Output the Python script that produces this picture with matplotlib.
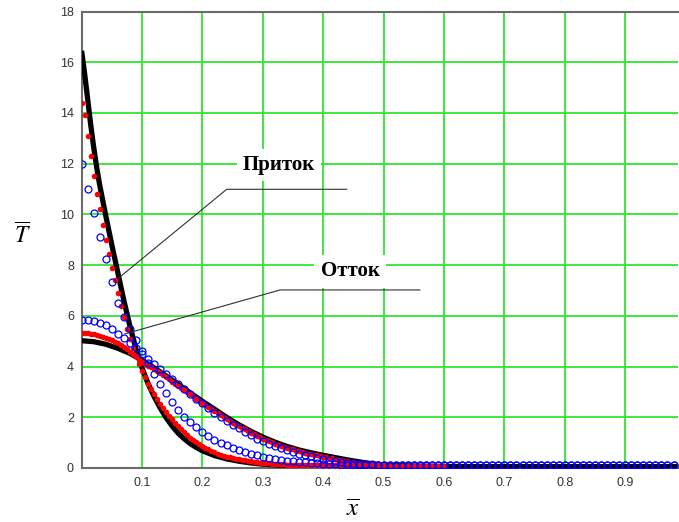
import numpy as np
import matplotlib
matplotlib.use("Agg")
import matplotlib.pyplot as plt

plt.rcParams['mathtext.fontset'] = 'stix'

#%% data

# black lines (solid)
x_black_in = [0.0, 0.005, 0.01, 0.015, 0.02, 0.025, 0.03, 0.035, 0.04, 0.05,
              0.06, 0.07, 0.08, 0.09, 0.10, 0.11, 0.12, 0.13, 0.14, 0.15,
              0.16, 0.17, 0.18, 0.19, 0.20, 0.22, 0.24, 0.26, 0.28, 0.30,
              0.33, 0.36, 0.40, 0.45, 0.50, 0.70, 0.99]
black_inflow = [16.45, 15.55, 14.55, 13.55, 12.65, 11.85, 11.15, 10.55, 9.95, 8.8,
                7.7, 6.6, 5.6, 4.7, 3.95, 3.33, 2.82, 2.37, 1.98, 1.65,
                1.37, 1.15, 0.96, 0.81, 0.68, 0.49, 0.36, 0.27, 0.2, 0.15,
                0.11, 0.08, 0.06, 0.05, 0.05, 0.05, 0.05]

x_black_out = [0.0, 0.02, 0.04, 0.06, 0.08, 0.10, 0.12, 0.14, 0.16, 0.18,
               0.20, 0.22, 0.24, 0.26, 0.28, 0.30, 0.32, 0.34, 0.36, 0.38,
               0.40, 0.42, 0.44, 0.46, 0.48, 0.50, 0.55, 0.60, 0.70, 0.99]
black_outflow = [5.02, 4.98, 4.88, 4.72, 4.52, 4.25, 3.95, 3.63, 3.3, 2.96,
                 2.63, 2.32, 2.0, 1.71, 1.45, 1.22, 1.02, 0.85, 0.71, 0.6,
                 0.5, 0.41, 0.32, 0.24, 0.17, 0.12, 0.08, 0.06, 0.05, 0.05]

# red dots, x = 0 .. 0.6 step 0.005
x_red = np.linspace(0, 0.6, 121)
red_inflow = [14.4, 13.9, 13.1, 12.3, 11.5, 10.8, 10.2, 9.6, 9.0, 8.45,
              7.9, 7.4, 6.9, 6.4, 5.95, 5.5, 5.1, 4.75, 4.4, 4.1,
              3.82, 3.57, 3.33, 3.11, 2.91, 2.72, 2.54, 2.37, 2.21, 2.06,
              1.92, 1.78, 1.65, 1.52, 1.41, 1.3, 1.2, 1.1, 1.01, 0.93,
              0.86, 0.79, 0.73, 0.67, 0.62, 0.57, 0.53, 0.49, 0.45, 0.42,
              0.39, 0.36, 0.34, 0.32, 0.3, 0.28, 0.26, 0.24, 0.22, 0.21,
              0.2, 0.19, 0.18, 0.17, 0.16, 0.15, 0.14, 0.14, 0.13, 0.12,
              0.12, 0.11, 0.11, 0.11, 0.1, 0.1, 0.1, 0.1, 0.1, 0.1,
              0.1, 0.1, 0.1, 0.1, 0.1, 0.1, 0.1, 0.1, 0.1, 0.1,
              0.09, 0.09, 0.09, 0.09, 0.09, 0.09, 0.09, 0.09, 0.09, 0.09,
              0.08, 0.08, 0.08, 0.08, 0.08, 0.08, 0.08, 0.08, 0.08, 0.08,
              0.07, 0.07, 0.07, 0.07, 0.07, 0.07, 0.07, 0.07, 0.07, 0.07,
              0.07]
red_outflow = [5.32, 5.32, 5.31, 5.29, 5.27, 5.24, 5.21, 5.17, 5.13, 5.08,
               5.03, 4.97, 4.91, 4.84, 4.76, 4.68, 4.59, 4.5, 4.4, 4.3,
               4.19, 4.12, 4.04, 3.97, 3.89, 3.81, 3.73, 3.65, 3.57, 3.49,
               3.4, 3.32, 3.24, 3.15, 3.07, 2.98, 2.9, 2.82, 2.73, 2.65,
               2.57, 2.49, 2.41, 2.33, 2.26, 2.17, 2.09, 2.0, 1.92, 1.85,
               1.78, 1.71, 1.64, 1.58, 1.52, 1.45, 1.39, 1.33, 1.27, 1.21,
               1.16, 1.11, 1.06, 1.01, 0.96, 0.92, 0.88, 0.84, 0.8, 0.76,
               0.73, 0.69, 0.66, 0.63, 0.6, 0.57, 0.55, 0.52, 0.5, 0.47,
               0.45, 0.42, 0.4, 0.38, 0.35, 0.33, 0.31, 0.29, 0.27, 0.25,
               0.23, 0.21, 0.2, 0.18, 0.17, 0.15, 0.14, 0.13, 0.12, 0.11,
               0.1, 0.1, 0.09, 0.09, 0.08, 0.08, 0.08, 0.07, 0.07, 0.07,
               0.07, 0.07, 0.06, 0.06, 0.06, 0.06, 0.06, 0.06, 0.06, 0.06,
               0.06]

# blue open circles, x = 0 .. 0.98 step 0.01
x_blue = np.linspace(0, 0.98, 99)
blue_inflow = [12.0, 11.0, 10.05, 9.1, 8.25, 7.35, 6.5, 5.95, 5.5, 5.05,
               4.6, 4.15, 3.7, 3.3, 2.95, 2.62, 2.3, 2.03, 1.8, 1.6,
               1.42, 1.26, 1.12, 1.0, 0.89, 0.79, 0.71, 0.63, 0.56, 0.5,
               0.45, 0.4, 0.36, 0.32, 0.29, 0.26, 0.24, 0.22, 0.2, 0.18,
               0.16, 0.15, 0.14, 0.13, 0.12, 0.11, 0.11, 0.11, 0.1, 0.1,
               0.1, 0.1, 0.1, 0.1, 0.1, 0.1, 0.1, 0.1, 0.1, 0.1,
               0.1, 0.1, 0.1, 0.1, 0.1, 0.1, 0.1, 0.1, 0.1, 0.1,
               0.1, 0.1, 0.1, 0.1, 0.1, 0.1, 0.1, 0.1, 0.1, 0.1,
               0.1, 0.1, 0.1, 0.1, 0.1, 0.1, 0.1, 0.1, 0.1, 0.1,
               0.1, 0.1, 0.1, 0.1, 0.1, 0.1, 0.1, 0.1, 0.1]
blue_outflow = [5.85, 5.84, 5.8, 5.72, 5.62, 5.48, 5.3, 5.12, 4.92, 4.72,
                4.5, 4.3, 4.1, 3.9, 3.7, 3.5, 3.32, 3.12, 2.92, 2.74,
                2.55, 2.37, 2.18, 2.02, 1.86, 1.7, 1.56, 1.42, 1.29, 1.16,
                1.05, 0.95, 0.86, 0.78, 0.7, 0.63, 0.57, 0.51, 0.46, 0.41,
                0.36, 0.32, 0.28, 0.24, 0.21, 0.19, 0.17, 0.15, 0.14, 0.13,
                0.12, 0.12, 0.11, 0.11, 0.11, 0.11, 0.11, 0.11, 0.11, 0.11,
                0.11, 0.11, 0.11, 0.11, 0.11, 0.11, 0.11, 0.11, 0.11, 0.11,
                0.11, 0.11, 0.11, 0.11, 0.11, 0.11, 0.11, 0.11, 0.11, 0.11,
                0.11, 0.11, 0.11, 0.11, 0.11, 0.11, 0.11, 0.11, 0.11, 0.11,
                0.11, 0.11, 0.11, 0.11, 0.11, 0.11, 0.11, 0.11, 0.11]

x_ticks = [0.1, 0.2, 0.3, 0.4, 0.5, 0.6, 0.7, 0.8, 0.9]
x_tick_labels = ['0.1', '0.2', '0.3', '0.4', '0.5', '0.6', '0.7', '0.8', '0.9']
y_ticks = [0, 2, 4, 6, 8, 10, 12, 14, 16, 18]
y_tick_labels = ['0', '2', '4', '6', '8', '10', '12', '14', '16', '18']

label_in = 'Приток'
label_out = 'Отток'

#%% figure

W, H = 679, 522
fig = plt.figure(figsize=(W / 100, H / 100), dpi=100)
# axes box in pixels: x 81.6..678, y 11.5..468
ax = fig.add_axes([81.6 / W, 1 - 468 / H, (678 - 81.6) / W, (468 - 11.5) / H])
ax.set_xlim(0, (678 - 81.6) / 604)
ax.set_ylim(0, 18)

ax.set_axisbelow(True)
ax.grid(True, color='#2ee62e', lw=1.3)

for side in ['left', 'bottom', 'top']:
    ax.spines[side].set_color('#6a6a6a')
    ax.spines[side].set_linewidth(1.5)
ax.spines['right'].set_visible(False)

ax.set_xticks(x_ticks)
ax.set_xticklabels(x_tick_labels)
ax.set_yticks(y_ticks)
ax.set_yticklabels(y_tick_labels)
ax.tick_params(axis='x', length=0, pad=6.5, labelsize=9, labelcolor='#333333')
ax.tick_params(axis='y', length=0, pad=5.5, labelsize=9, labelcolor='#333333')
for lab in ax.get_xticklabels() + ax.get_yticklabels():
    lab.set_fontfamily('Liberation Sans')

# curves
ax.plot(x_black_in, black_inflow, color='black', lw=3.8, solid_capstyle='butt', zorder=3)
ax.plot(x_black_out, black_outflow, color='black', lw=3.8, solid_capstyle='butt', zorder=3)

ax.plot(x_red, red_inflow, ls='none', marker='o', ms=4.0, mfc='red', mec='red', mew=0, zorder=4)
ax.plot(x_red, red_outflow, ls='none', marker='o', ms=4.0, mfc='red', mec='red', mew=0, zorder=4)

ax.plot(x_blue, blue_inflow, ls='none', marker='o', ms=5.0, mfc='none', mec='#0000ff', mew=0.9, zorder=5)
ax.plot(x_blue, blue_outflow, ls='none', marker='o', ms=5.0, mfc='none', mec='#0000ff', mew=0.9, zorder=5)

# leader lines and labels
ax.plot([0.0608, 0.2402, 0.4389], [7.48, 10.99, 10.99], color='#303030', lw=0.8, zorder=6)
ax.plot([0.0719, 0.3285, 0.560], [5.29, 7.02, 7.02], color='#303030', lw=0.8, zorder=6)

txt_kw = dict(ha='center', va='center', fontsize=15, fontweight='bold',
              family='Liberation Serif', zorder=2,
              bbox=dict(boxstyle='square,pad=0.3', fc='white', ec='none'))
ax.text(0.3268, 11.95, label_in, **txt_kw)
ax.text(0.4444, 7.75, label_out, **txt_kw)

# axis titles
fig.text(22 / W, 1 - 236 / H, r'$\overline{T}$', ha='center', va='center', fontsize=17)
fig.text(353 / W, 1 - 509 / H, r'$\overline{x}$', ha='center', va='center', fontsize=18)

fig.savefig('out.png', dpi=100)
